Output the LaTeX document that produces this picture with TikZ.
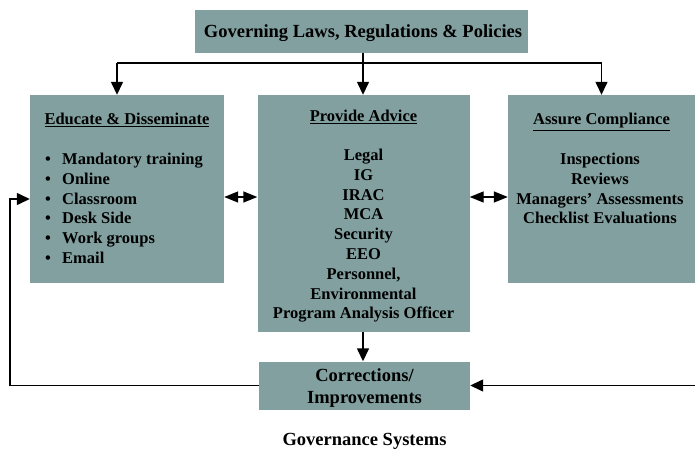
\documentclass[tikz,border=0pt]{standalone}
\usepackage{fontspec}
\setmainfont{Liberation Serif}
\usetikzlibrary{arrows.meta}
\definecolor{boxfill}{RGB}{130,160,160}
\begin{document}
\begin{tikzpicture}[x=1pt,y=-1pt,
  box/.style={fill=boxfill,draw=none,inner sep=0pt},
  txt/.style={inner sep=0pt,font=\fontsize{16.5}{19.8}\selectfont\bfseries,anchor=base},
  big/.style={txt,font=\fontsize{18.5}{22}\selectfont\bfseries},
  conn/.style={line width=1.4pt},
  tip/.style={-{Triangle[length=13pt,width=12pt]}},
  dtip/.style={{Triangle[length=14pt,width=11pt]}-{Triangle[length=14pt,width=11pt]}}]
\useasboundingbox (0,0) rectangle (695,449);
% boxes
\node[box,minimum width=333pt,minimum height=43pt] (gov) at (361.5,31.5) {};
\node[big] (govt) at (363,37.5) {Governing Laws, Regulations \& Policies};
\node[box,minimum width=194pt,minimum height=188pt] (edu) at (127,189) {};
\node[box,minimum width=212pt,minimum height=237pt] (adv) at (363.5,213.5) {};
\node[box,minimum width=187pt,minimum height=188pt] (comp) at (601.5,189) {};
\node[box,minimum width=211pt,minimum height=48pt] (corr) at (364.5,385.5) {};
% titles
\node[txt] (edut) at (127,125) {\underline{Educate \& Disseminate}};
\node[txt] (advt) at (363.5,122) {\underline{Provide Advice}};
\node[txt] (compt) at (601.5,125) {\underline{Assure Compliance}};
% educate list
\foreach \t [count=\i] in {Mandatory training,Online,Classroom,Desk Side,Work groups,Email}
  \node[txt,anchor=base west] (e\i) at (45,{164.5+19.8*(\i-1)}) {\makebox[17pt][l]{\textbullet}\t};
% advice list
\foreach \t [count=\i] in {Legal,IG,IRAC,MCA,Security,EEO,{Personnel,},Environmental,Program Analysis Officer}
  \node[txt] (a\i) at (363.5,{160.5+19.8*(\i-1)}) {\t};
% compliance list
\foreach \t [count=\i] in {Inspections,Reviews,Managers’ Assessments,Checklist Evaluations}
  \node[txt] (c\i) at (600,{164.5+19.8*(\i-1)}) {\t};
% corrections text
\node[big] (corrt1) at (364.5,381.5) {Corrections/};
\node[big] (corrt2) at (364.5,403) {Improvements};
\node[big] (cap) at (364.5,445.5) {Governance Systems};
% connectors
\coordinate (j) at (363,63);
\draw[conn] (gov.south -| j) -- (j);
\draw[conn] (117,63) -- (601.5,63);
\draw[conn,tip] (117,63) -- (edu.north -| 117,0);
\draw[conn,tip] (j) -- (adv.north -| j);
\draw[conn,tip] (601.5,63) -- (comp.north);
\draw[conn,dtip] (edu.east |- 0,197) -- (adv.west |- 0,197);
\draw[conn,dtip] (adv.east |- 0,197) -- (comp.west |- 0,197);
\draw[conn,tip] (adv.south -| j) -- (corr.north -| j);
\draw[conn,tip] (corr.west) -- (10,385.5) -- (10,199) -- (edu.west |- 0,199);
\draw[conn,tip] (700,385.5) -- (corr.east);
\draw[conn] (comp.east |- 0,197) -- (700,197);
\end{tikzpicture}
\end{document}
